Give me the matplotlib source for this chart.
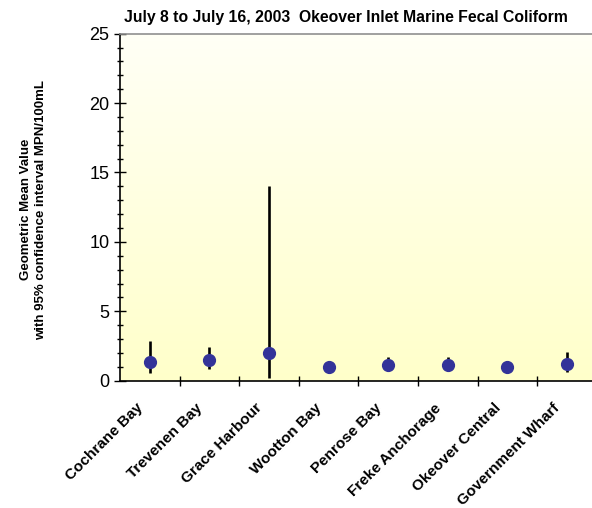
import numpy as np
import matplotlib
matplotlib.use("Agg")
import matplotlib.pyplot as plt
from matplotlib.colors import LinearSegmentedColormap
from matplotlib.ticker import MultipleLocator, FixedLocator
from matplotlib.transforms import ScaledTranslation

plt.rcParams['font.family'] = ['Liberation Sans', 'DejaVu Sans']

stations = ["Cochrane Bay", "Trevenen Bay", "Grace Harbour", "Wootton Bay",
            "Penrose Bay", "Freke Anchorage", "Okeover Central", "Government Wharf"]
geo_mean = [1.32, 1.49, 2.00, 0.96, 1.13, 1.13, 0.96, 1.22]
ci_lower = [0.53, 0.86, 0.17, 0.90, 0.80, 0.80, 0.90, 0.60]
ci_upper = [2.88, 2.45, 14.05, 1.05, 1.68, 1.68, 1.02, 2.10]

title = "July 8 to July 16, 2003  Okeover Inlet Marine Fecal Coliform"
ylabel = "Geometric Mean Value\nwith 95% confidence interval MPN/100mL"

fig = plt.figure(figsize=(5.92, 5.08), dpi=100)
ax = fig.add_axes([0.2027, 0.2506, 0.8053, 0.6831])

x = np.arange(len(stations))
n = len(stations)
ax.set_xlim(-0.5, n - 0.5)
ax.set_ylim(0, 25)

# soft yellow gradient fill behind the data
grad = np.linspace(0, 1, 256).reshape(-1, 1)
cmap = LinearSegmentedColormap.from_list("bg", ["#FFFFCA", "#FFFFF6"])
ax.imshow(grad, cmap=cmap, origin="lower", aspect="auto",
          extent=(-0.5, n - 0.5, 0, 25), zorder=0)

err = [np.array(geo_mean) - np.array(ci_lower), np.array(ci_upper) - np.array(geo_mean)]
ax.errorbar(x, geo_mean, yerr=err, fmt="none", ecolor="black",
            elinewidth=1.9, capsize=0, zorder=2)
ax.plot(x, geo_mean, "o", color="#333399", markersize=8.5, zorder=3)

# y axis ticks
ax.yaxis.set_major_locator(MultipleLocator(5))
ax.yaxis.set_minor_locator(MultipleLocator(1))
ax.tick_params(axis="y", which="major", direction="inout", length=9, width=1,
               labelsize=13, pad=3)
ax.tick_params(axis="y", which="minor", direction="inout", length=4.5, width=1)

# x axis: labels at station centers, ticks between stations
ax.xaxis.set_major_locator(FixedLocator(x))
ax.set_xticklabels(stations, rotation=45, ha="right", va="center",
                   rotation_mode="anchor", fontsize=11, fontweight="bold")
ax.tick_params(axis="x", which="major", length=0, pad=0)
shift = ScaledTranslation(-0.09, -0.25, fig.dpi_scale_trans)
for lab in ax.get_xticklabels():
    lab.set_transform(lab.get_transform() + shift)
ax.xaxis.set_minor_locator(FixedLocator(np.arange(n - 1) + 0.5))
ax.tick_params(axis="x", which="minor", direction="inout", length=7, width=1)

for s in ["left", "bottom"]:
    ax.spines[s].set_color("black")
    ax.spines[s].set_linewidth(1.2)
ax.spines["top"].set_color("#909090")
ax.spines["top"].set_linewidth(1.2)
ax.spines["right"].set_visible(False)

fig.text(0.584, 0.966, title, ha="center", va="center",
         fontsize=11.3, fontweight="bold")
fig.text(0.057, 0.587, ylabel, rotation=90, ha="center", va="center",
         fontsize=9.5, fontweight="bold", linespacing=1.35)

fig.savefig("out.png", dpi=100, facecolor="white")
